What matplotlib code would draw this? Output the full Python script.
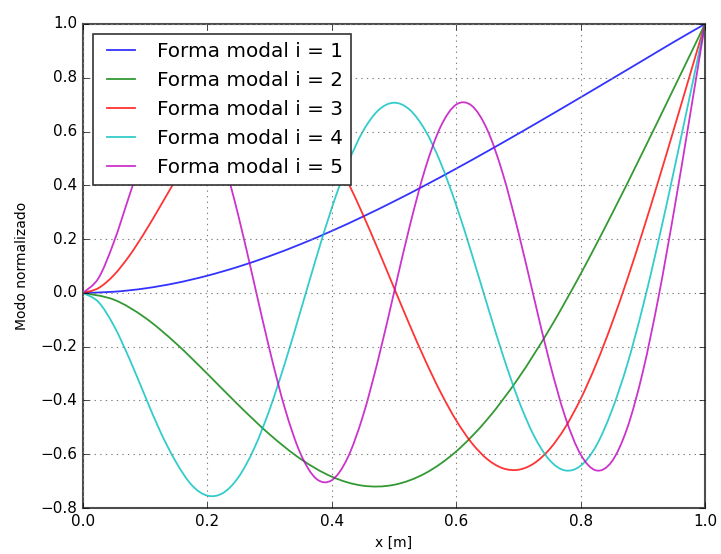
import matplotlib
matplotlib.use("Agg")
import matplotlib.pyplot as plt
from matplotlib.path import Path
from matplotlib.patches import PathPatch

plt.style.use("classic")

# x positions (m)
x_low = [0.00, 0.05, 0.10, 0.15, 0.20, 0.25, 0.30, 0.35, 0.40, 0.45, 0.50,
         0.55, 0.60, 0.65, 0.70, 0.75, 0.80, 0.85, 0.90, 0.95, 1.00]
x_high = [0.000, 0.025, 0.050, 0.075, 0.100, 0.125, 0.150, 0.175, 0.200, 0.225,
          0.250, 0.275, 0.300, 0.325, 0.350, 0.375, 0.400, 0.425, 0.450, 0.475,
          0.500, 0.525, 0.550, 0.575, 0.600, 0.625, 0.650, 0.675, 0.700, 0.725,
          0.750, 0.775, 0.800, 0.825, 0.850, 0.875, 0.900, 0.925, 0.950, 0.975,
          1.000]

mode1 = [0, 0.0043, 0.0168, 0.0369, 0.0640, 0.0975, 0.1368, 0.1813, 0.2304,
         0.2836, 0.3403, 0.4000, 0.4622, 0.5264, 0.5922, 0.6592, 0.7271,
         0.7956, 0.8643, 0.9333, 1.0]
mode2 = [0, -0.0254, -0.0926, -0.1888, -0.3011, -0.4173, -0.5261, -0.6177,
         -0.6835, -0.7170, -0.7137, -0.6712, -0.5895, -0.4702, -0.3170,
         -0.1349, 0.0702, 0.2918, 0.5238, 0.7612, 1.0]
mode3 = [0, 0.0180, 0.0670, 0.1395, 0.2280, 0.3253, 0.4246, 0.5202, 0.6049,
         0.6745, 0.7248, 0.7529, 0.7565, 0.7349, 0.6882, 0.6178, 0.5261,
         0.4159, 0.2916, 0.1578, 0.0194, -0.1182, -0.2496, -0.3699, -0.4741,
         -0.5581, -0.6183, -0.6522, -0.6577, -0.6341, -0.5816, -0.5012,
         -0.3948, -0.2652, -0.1156, 0.0503, 0.2289, 0.4162, 0.6090, 0.8044,
         1.0]
mode4 = [0, -0.0343, -0.1235, -0.2470, -0.3850, -0.5193, -0.6309, -0.7152,
         -0.7539, -0.7443, -0.6852, -0.5794, -0.4339, -0.2585, -0.0657,
         0.1304, 0.3156, 0.4762, 0.6005, 0.6794, 0.7071, 0.6817, 0.6053,
         0.4838, 0.3265, 0.1455, -0.0452, -0.2310, -0.3974, -0.5312, -0.6214,
         -0.6602, -0.6430, -0.5692, -0.4388, -0.2664, -0.0520, 0.1914, 0.4536,
         0.7253, 1.0]
mode5 = [0, 0.0551, 0.1911, 0.3651, 0.5372, 0.6734, 0.7476, 0.7443, 0.6596,
         0.5008, 0.2852, 0.0380, -0.2113, -0.4327, -0.5993, -0.6910, -0.6965,
         -0.6156, -0.4582, -0.2438, 0.0009, 0.2456, 0.4603, 0.6183, 0.7003,
         0.6961, 0.6065, 0.4429, 0.2257, -0.0175, -0.2560, -0.4592, -0.6005,
         -0.6601, -0.6276, -0.5025, -0.2940, -0.0188, 0.3021, 0.6472, 1.0]

labels = ["Forma modal i = 1", "Forma modal i = 2", "Forma modal i = 3",
          "Forma modal i = 4", "Forma modal i = 5"]
colors = ["b", "g", "r", "c", "m"]


def smooth_path(xs, ys):
    """Smooth line through the points (Catmull-Rom drawn as cubic Bezier)."""
    n = len(xs)
    verts = [(xs[0], ys[0])]
    codes = [Path.MOVETO]
    for i in range(n - 1):
        x0, y0 = (xs[i - 1], ys[i - 1]) if i > 0 else (xs[i], ys[i])
        x1, y1 = xs[i], ys[i]
        x2, y2 = xs[i + 1], ys[i + 1]
        x3, y3 = (xs[i + 2], ys[i + 2]) if i + 2 < n else (x2, y2)
        c1 = (x1 + (x2 - x0) / 6.0, y1 + (y2 - y0) / 6.0)
        c2 = (x2 - (x3 - x1) / 6.0, y2 - (y3 - y1) / 6.0)
        verts += [c1, c2, (x2, y2)]
        codes += [Path.CURVE4] * 3
    return Path(verts, codes)


fig = plt.figure(figsize=(7.21, 5.54), dpi=100, facecolor="white")
ax = fig.add_axes([0.1151, 0.0830, 0.8627, 0.8737])
ax.set_facecolor("white")

series = [(x_low, mode1), (x_low, mode2), (x_high, mode3), (x_high, mode4), (x_high, mode5)]
for (xs, ys), lab, col in zip(series, labels, colors):
    ax.add_patch(PathPatch(smooth_path(xs, ys), facecolor="none", edgecolor=col,
                           lw=1.3, alpha=0.8, zorder=2))
    ax.plot([], [], color=col, lw=1.3, alpha=0.8, label=lab)

ax.set_xlim(0, 1)
ax.set_ylim(-0.8, 1.0)
ax.set_xticks([0.0, 0.2, 0.4, 0.6, 0.8, 1.0])
ax.set_yticks([-0.8, -0.6, -0.4, -0.2, 0.0, 0.2, 0.4, 0.6, 0.8, 1.0])
ax.tick_params(labelsize=11)
ax.grid(True, color="0.5", linestyle=":", linewidth=0.8)
ax.set_xlabel("x [m]", fontsize=10)
ax.set_ylabel("Modo normalizado", fontsize=10, labelpad=8)
for s in ax.spines.values():
    s.set_linewidth(1.5)
    s.set_color("0.3")

leg = ax.legend(loc="upper left", fontsize=14.4, frameon=True, fancybox=False)
leg.get_frame().set_edgecolor("0.2")
leg.get_frame().set_linewidth(1.2)
leg.set_zorder(5)

fig.savefig("out.png", dpi=100, facecolor="white")
